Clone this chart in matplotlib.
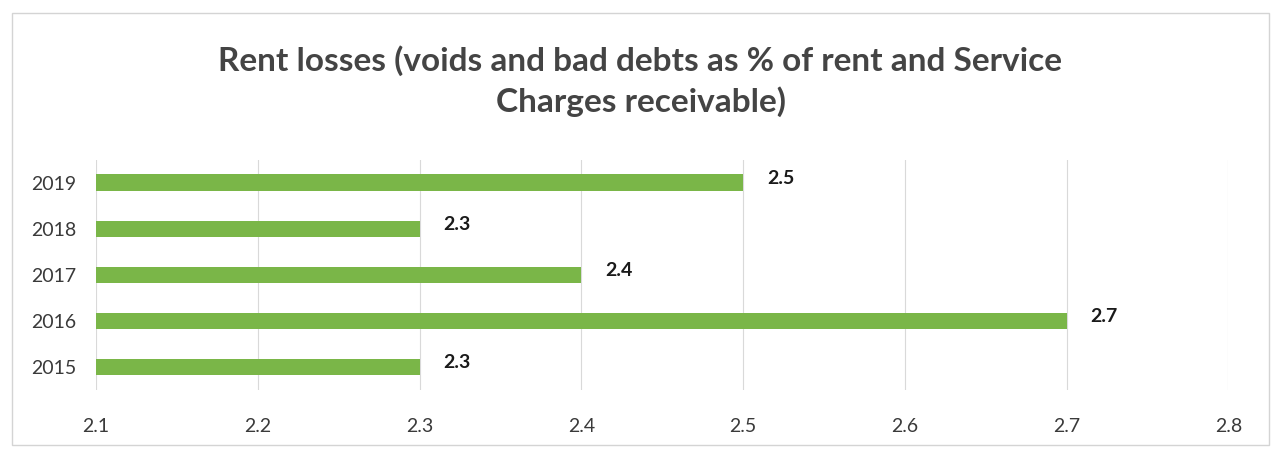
import matplotlib
matplotlib.use("Agg")
import matplotlib.pyplot as plt
from matplotlib.patches import Rectangle

years = ["2015", "2016", "2017", "2018", "2019"]
rent_loss = [2.3, 2.7, 2.4, 2.3, 2.5]
x_ticks = [2.1, 2.2, 2.3, 2.4, 2.5, 2.6, 2.7, 2.8]
BASE = 2.1

plt.rcParams["font.family"] = ["Lato", "DejaVu Sans"]

fig = plt.figure(figsize=(12.81, 4.5), dpi=100)
fig.patches.append(Rectangle((0.009, 0.011), 0.982, 0.96, transform=fig.transFigure,
                             fill=False, edgecolor="#d4d4d4", lw=1.0))
ax = fig.add_axes([0.075, 0.133, 0.884, 0.512])

widths = [v - BASE for v in rent_loss]
ax.barh(range(len(years)), widths, left=BASE, height=0.36, color="#7ab648", zorder=2)
for i, v in enumerate(rent_loss):
    ax.annotate(f"{v:.1f}", (v, i), xytext=(17, 3), textcoords="offset points",
                va="center", ha="left", fontsize=14, fontweight="bold", color="#1a1a1a")

ax.set_xlim(BASE, 2.8)
ax.set_ylim(-0.5, 4.5)
ax.set_xticks(x_ticks)
ax.set_xticklabels([f"{t:.1f}" for t in x_ticks])
ax.set_yticks(range(len(years)))
ax.set_yticklabels(years)
ax.tick_params(axis="x", length=0, pad=20, labelsize=14, labelcolor="#3a3a3a")
ax.tick_params(axis="y", length=0, pad=14, labelsize=14, labelcolor="#3a3a3a")
ax.grid(axis="x", color="#d9d9d9", lw=0.8, zorder=0)
for s in ax.spines.values():
    s.set_visible(False)

fig.text(0.5, 0.82, "Rent losses (voids and bad debts as % of rent and Service\nCharges receivable)",
         ha="center", va="center", fontsize=24, fontweight="bold", color="#444444",
         linespacing=1.4)

fig.savefig("out.png", dpi=100)
